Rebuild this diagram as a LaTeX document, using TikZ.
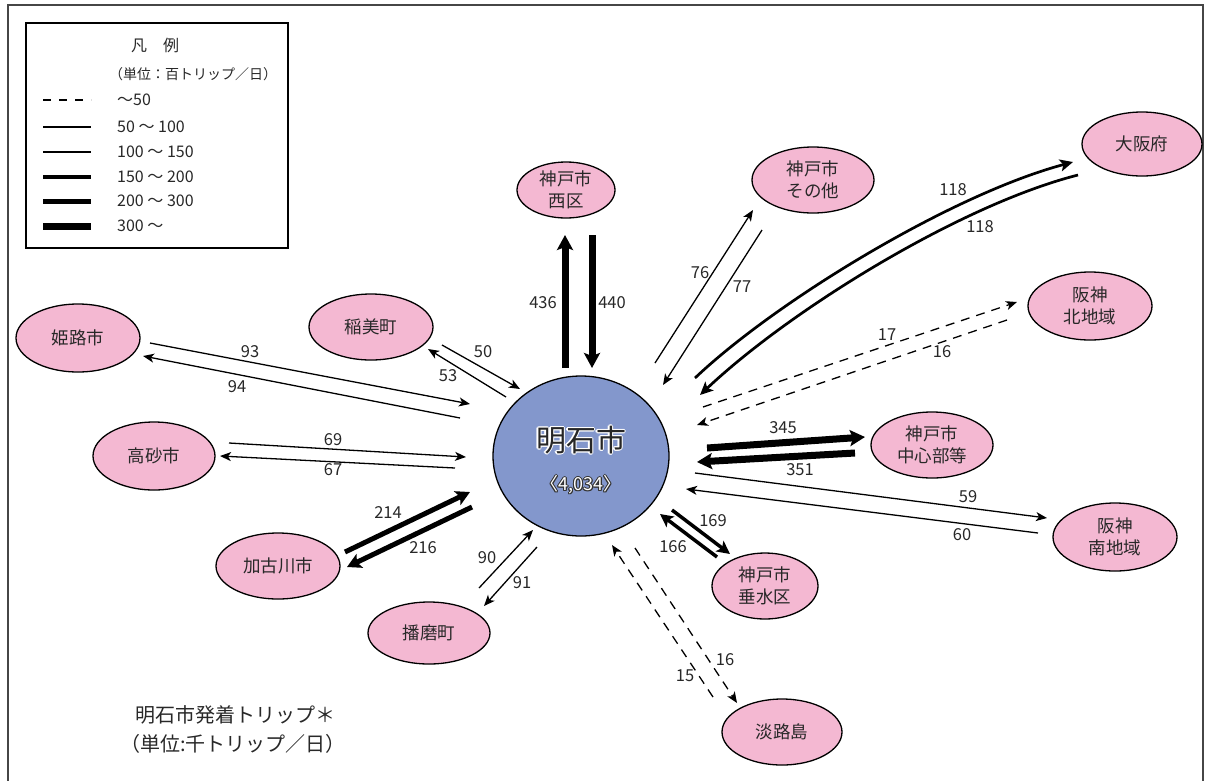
\documentclass[tikz,border=0pt]{standalone}
\usepackage{fontspec}
\setmainfont{Noto Sans CJK JP}
\usetikzlibrary{arrows.meta,shapes.geometric}
\definecolor{pinkfill}{RGB}{244,184,210}
\definecolor{bluefill}{RGB}{131,151,204}
\definecolor{txt}{RGB}{40,40,40}
\definecolor{framec}{RGB}{70,70,70}
\begin{document}
\begin{tikzpicture}[x=1pt,y=-1pt,
  place/.style={ellipse, draw=black, line width=1.3pt, fill=pinkfill, inner sep=0pt,
    align=center, text=txt, font=\fontsize{17.5}{22}\selectfont},
  hub/.style={ellipse, draw=black, line width=1.3pt, fill=bluefill, inner sep=0pt},
  lab/.style={font=\fontsize{16.5}{18}\selectfont, text=txt, inner sep=0pt},
  legtext/.style={font=\fontsize{16}{18}\selectfont, text=txt, inner sep=0pt, anchor=west},
  hubname/.style={font=\fontsize{30}{32}\selectfont, inner sep=0pt},
  hubnum/.style={font=\fontsize{18}{20}\selectfont, inner sep=0pt},
  fA/.style={line width=1.3pt, -{Stealth[length=11pt,width=9pt,inset=3pt]}},
  fB/.style={line width=2.7pt, -{Stealth[length=13pt,width=12pt,inset=3pt]}},
  fC/.style={line width=3.5pt, -{Stealth[length=13pt,width=13pt,inset=3pt]}},
  fD/.style={line width=5pt, -{Stealth[length=14pt,width=15pt,inset=3pt]}},
  fE/.style={line width=7pt, -{Stealth[length=15pt,width=16pt,inset=3pt]}},
  fDash/.style={line width=1.3pt, dash pattern=on 9pt off 7pt, -{Stealth[length=11pt,width=9pt,inset=3pt]}},
]
\useasboundingbox (0,0) rectangle (1210,780);
\fill[white] (0,0) rectangle (1210,780);
% outer frame
\draw[framec, line width=1.6pt] (8,781) -- (8,5) -- (1203,5) -- (1203,781);

% legend
\draw[black, line width=1.2pt] (26,23) rectangle (288,248);
\node[font=\fontsize{16}{18}\selectfont, text=txt, inner sep=0pt] (legtitle) at (155,45) {凡　例};
\node[font=\fontsize{14}{16}\selectfont, text=txt, inner sep=0pt] (legunit) at (193,74) {（単位：百トリップ／日）};
\draw[line width=1.2pt, dash pattern=on 8pt off 8pt] (43,100) -- (91,100);
\draw[line width=1.3pt] (43,127) -- (91,127);
\draw[line width=2.7pt] (43,152) -- (91,152);
\draw[line width=3.7pt] (43,177) -- (91,177);
\draw[line width=5pt] (43,201) -- (91,201);
\draw[line width=7pt] (43,226) -- (91,226);
\node[legtext] (lg1) at (117,100) {～50};
\node[legtext] (lg2) at (117,127) {50 ～ 100};
\node[legtext] (lg3) at (117,152) {100 ～ 150};
\node[legtext] (lg4) at (117,177) {150 ～ 200};
\node[legtext] (lg5) at (117,201) {200 ～ 300};
\node[legtext] (lg6) at (117,226) {300 ～};

% hub
\node[hub, minimum width=176pt, minimum height=160pt] (akashi) at (581,456) {};
\foreach \dx/\dy [count=\i] in {1.2/0,-1.2/0,0/1.2,0/-1.2,0.85/0.85,-0.85/0.85,0.85/-0.85,-0.85/-0.85}{
  \node[hubname, text=white] (namehalo\i) at (581+\dx,440+\dy) {明石市};
  \node[hubnum, text=black!80] (numhalo\i) at (581+0.8*\dx,485+0.8*\dy) {〈4,034〉};
}
\node[hubname, text=black!85] (akashiname) at (581,440) {明石市};
\node[hubnum, text=white] (akashinum) at (581,485) {〈4,034〉};

% places
\node[place, minimum width=98pt, minimum height=56pt] (nishiku) at (566,190) {神戸市\\西区};
\node[place, minimum width=122pt, minimum height=66pt] (sonota) at (813,180) {神戸市\\その他};
\node[place, minimum width=120pt, minimum height=64pt] (osaka) at (1142,144) {大阪府};
\node[place, minimum width=124pt, minimum height=68pt] (kita) at (1090,306) {阪神\\北地域};
\node[place, minimum width=122pt, minimum height=66pt] (chushin) at (932,445) {神戸市\\中心部等};
\node[place, minimum width=124pt, minimum height=68pt] (minami) at (1115,537) {阪神\\南地域};
\node[place, minimum width=106pt, minimum height=66pt] (tarumi) at (765,586) {神戸市\\垂水区};
\node[place, minimum width=120pt, minimum height=66pt] (awaji) at (782,732) {淡路島};
\node[place, minimum width=122pt, minimum height=62pt] (harima) at (429,633) {播磨町};
\node[place, minimum width=124pt, minimum height=66pt] (kakogawa) at (278,566) {加古川市};
\node[place, minimum width=122pt, minimum height=68pt] (takasago) at (154,456) {高砂市};
\node[place, minimum width=124pt, minimum height=68pt] (himeji) at (78,338) {姫路市};
\node[place, minimum width=124pt, minimum height=66pt] (inami) at (371,327) {稲美町};

% connector end points
\coordinate (h1s) at (150,343); \coordinate (h1e) at (470,404);
\coordinate (h2s) at (460,418); \coordinate (h2e) at (143,356);
\coordinate (t1s) at (229,443); \coordinate (t1e) at (466,457);
\coordinate (t2s) at (455,468); \coordinate (t2e) at (220,456);
\coordinate (i1s) at (442,345); \coordinate (i1e) at (520,389);
\coordinate (i2s) at (506,397); \coordinate (i2e) at (428,349);
\coordinate (n1s) at (565,368); \coordinate (n1e) at (565,235);
\coordinate (n2s) at (592,235); \coordinate (n2e) at (592,368);
\coordinate (s1s) at (655,363); \coordinate (s1e) at (753,210);
\coordinate (s2s) at (762,230); \coordinate (s2e) at (663,385);
\coordinate (o1s) at (695,378); \coordinate (o1e) at (1073,162);
\coordinate (o2s) at (1078,175); \coordinate (o2e) at (700,395);
\coordinate (k1s) at (703,407); \coordinate (k1e) at (1017,302);
\coordinate (k2s) at (1007,320); \coordinate (k2e) at (697,425);
\coordinate (c1s) at (707,448); \coordinate (c1e) at (865,437);
\coordinate (c2s) at (855,453); \coordinate (c2e) at (697,462);
\coordinate (m1s) at (695,473); \coordinate (m1e) at (1047,518);
\coordinate (m2s) at (1038,533); \coordinate (m2e) at (686,489);
\coordinate (r1s) at (672,510); \coordinate (r1e) at (730,554);
\coordinate (r2s) at (717,557); \coordinate (r2e) at (660,514);
\coordinate (a1s) at (635,548); \coordinate (a1e) at (737,703);
\coordinate (a2s) at (713,697); \coordinate (a2e) at (612,545);
\coordinate (p1s) at (479,588); \coordinate (p1e) at (533,530);
\coordinate (p2s) at (537,547); \coordinate (p2e) at (484,606);
\coordinate (g1s) at (345,552); \coordinate (g1e) at (470,492);
\coordinate (g2s) at (472,507); \coordinate (g2e) at (347,567);

% connectors
\draw[fA] (h1s) -- (h1e);
\draw[fA] (h2s) -- (h2e);
\draw[fA] (t1s) -- (t1e);
\draw[fA] (t2s) -- (t2e);
\draw[fA] (i1s) -- (i1e);
\draw[fA] (i2s) -- (i2e);
\draw[fE] (n1s) -- (n1e);
\draw[fE] (n2s) -- (n2e);
\draw[fA] (s1s) -- (s1e);
\draw[fA] (s2s) -- (s2e);
\draw[fB] (o1s) .. controls (775,302) and (950,195) .. (o1e);
\draw[fB] (o2s) .. controls (960,205) and (790,310) .. (o2e);
\draw[fDash] (k1s) -- (k1e);
\draw[fDash] (k2s) -- (k2e);
\draw[fE] (c1s) -- (c1e);
\draw[fE] (c2s) -- (c2e);
\draw[fA] (m1s) -- (m1e);
\draw[fA] (m2s) -- (m2e);
\draw[fC] (r1s) -- (r1e);
\draw[fC] (r2s) -- (r2e);
\draw[fDash] (a1s) -- (a1e);
\draw[fDash] (a2s) -- (a2e);
\draw[fA] (p1s) -- (p1e);
\draw[fA] (p2s) -- (p2e);
\draw[fD] (g1s) -- (g1e);
\draw[fD] (g2s) -- (g2e);

% labels
\node[lab] (l93) at (250,352) {93};
\node[lab] (l94) at (237,387) {94};
\node[lab] (l69) at (333,440) {69};
\node[lab] (l67) at (333,470) {67};
\node[lab] (l50) at (483,352) {50};
\node[lab] (l53) at (448,376) {53};
\node[lab] (l436) at (543,303) {436};
\node[lab] (l440) at (612,303) {440};
\node[lab] (l76) at (700,273) {76};
\node[lab] (l77) at (742,287) {77};
\node[lab] (l118a) at (953,190) {118};
\node[lab] (l118b) at (980,227) {118};
\node[lab] (l17) at (887,335) {17};
\node[lab] (l16a) at (942,352) {16};
\node[lab] (l345) at (783,428) {345};
\node[lab] (l351) at (800,470) {351};
\node[lab] (l59) at (968,497) {59};
\node[lab] (l60) at (962,535) {60};
\node[lab] (l169) at (713,521) {169};
\node[lab] (l166) at (673,547) {166};
\node[lab] (l16b) at (725,660) {16};
\node[lab] (l15) at (685,676) {15};
\node[lab] (l90) at (487,558) {90};
\node[lab] (l91) at (522,583) {91};
\node[lab] (l214) at (388,512) {214};
\node[lab] (l216) at (423,548) {216};

% caption
\node[font=\fontsize{20}{22}\selectfont, text=txt, inner sep=0pt, anchor=west] (cap1) at (135,715) {明石市発着トリップ＊};
\node[font=\fontsize{20}{22}\selectfont, text=txt, inner sep=0pt, anchor=west] (cap2) at (120,744) {（単位:千トリップ／日）};
\end{tikzpicture}
\end{document}
